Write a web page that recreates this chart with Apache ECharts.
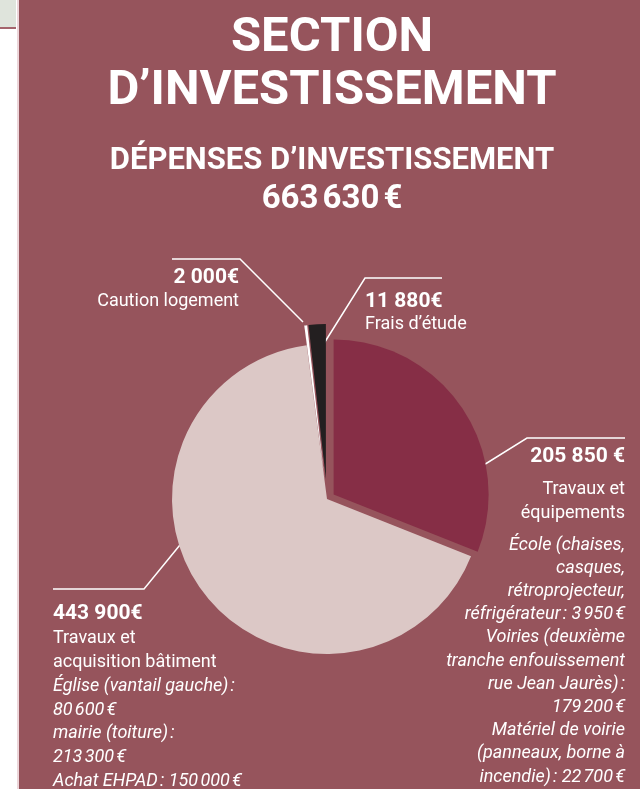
<!DOCTYPE html>
<html>
<head>
<meta charset="utf-8">
<script src="https://cdn.jsdelivr.net/npm/echarts@6/dist/echarts.min.js"></script>
<style>
html, body { margin: 0; padding: 0; background: #fff; }
#chart { width: 640px; height: 789px; }
</style>
</head>
<body>
<div id="chart"></div>
<script>
var categories = ['Travaux et équipements', 'Travaux et acquisition bâtiment', 'Caution logement', 'Frais d’étude'];
var amounts = [205850, 443900, 2000, 11880];
var amountLabels = ['205 850 €', '443 900€', '2 000€', '11 880€'];
var nameLines = [
	['Travaux et', 'équipements'],
	['Travaux et', 'acquisition bâtiment'],
	['Caution logement'],
	['Frais d’étude']
];
var details = [
	['École (chaises,', 'casques,', 'rétroprojecteur,', 'réfrigérateur\u202f: 3\u202f950\u202f€',
		'Voiries (deuxième', 'tranche enfouissement', 'rue Jean Jaurès)\u202f:', '179\u202f200\u202f€',
		'Matériel de voirie', '(panneaux, borne à', 'incendie)\u202f: 22\u202f700\u202f€'],
	['Église (vantail gauche)\u202f:', '80\u202f600\u202f€', 'mairie (toiture)\u202f:', '213\u202f300\u202f€',
		'Achat EHPAD\u202f: 150\u202f000\u202f€'],
	[],
	[]
];

var sliceColors = ['#862e46', '#dcc8c6', '#ffffff', '#231f20'];
var explode = [8, 0, 20, 20];
var pieCenter = [327, 499];
// label placement and leader lines (annotation layout)
var labelPos = [
	{ x : 625, y : 436, align : 'right', boldLH : 42, gap : 8, detailLH : 23.2, line : [[442, 491], [527, 438], [625, 438]] },
	{ x : 53, y : 600, align : 'left', boldLH : 27, gap : 0, detailLH : 23.75, line : [[193, 529], [144, 589], [53, 589]] },
	{ x : 239, y : 265, align : 'right', boldLH : 25, gap : 0, detailLH : 23.75, line : [[303, 322], [240, 259], [172, 259]] },
	{ x : 365, y : 290, align : 'left', boldLH : 23, gap : 0, detailLH : 23.75, line : [[323, 345], [365, 278], [442, 278]] }
];

var total = amounts.reduce(function(s, v) { return s + v; }, 0);

function fmtTotal(v) {
	return String(v).replace(/\B(?=(\d{3})+(?!\d))/g, '\u202f') + '\u202f€';
}

// slice pulled out along its bisector
function sliceCenter(i) {
	var before = 0;
	for (var j = 0; j < i; j++) before += amounts[j];
	var mid = (90 - 360 * (before + amounts[i] / 2) / total) * Math.PI / 180;
	return [pieCenter[0] + explode[i] * Math.cos(mid), pieCenter[1] - explode[i] * Math.sin(mid)];
}

function labelFor(i) {
	var L = labelPos[i];
	var a = L.align;
	var lines = ['{b|' + amountLabels[i] + '}'];
	nameLines[i].forEach(function(l) { lines.push('{r|' + l + '}'); });
	if (details[i].length && L.gap) lines.push('{g| }');
	details[i].forEach(function(l) { lines.push('{i|' + l + '}'); });
	return {
		show : true,
		padding : 0,
		formatter : lines.join('\n'),
		rich : {
			b : { fontFamily : 'Roboto', fontWeight : 'bold', fontSize : 21, lineHeight : L.boldLH, color : '#fff', align : a },
			r : { fontFamily : 'Roboto', fontSize : 18, lineHeight : 23.75, color : '#fff', align : a },
			g : { fontSize : 1, lineHeight : L.gap, align : a },
			i : { fontFamily : 'Roboto', fontStyle : 'italic', fontSize : 18, lineHeight : L.detailLH, color : '#fff', align : a }
		}
	};
}

function makeSeries(k) {
	return {
		type : 'pie',
		center : sliceCenter(k),
		radius : 155,
		startAngle : 90,
		clockwise : true,
		avoidLabelOverlap : false,
		animation : false,
		emphasis : { disabled : true },
		itemStyle : { borderWidth : 0 },
		label : { position : 'outside' },
		labelLine : { show : true, lineStyle : { color : '#fff', width : 1.5 } },
		labelLayout : function(p) {
			var L = labelPos[p.dataIndex];
			return { x : L.x, y : L.y, align : L.align, verticalAlign : 'top', labelLinePoints : L.line };
		},
		data : categories.map(function(c, i) {
			var on = i === k;
			return {
				name : c,
				value : amounts[i],
				itemStyle : { color : on ? sliceColors[i] : 'rgba(0,0,0,0)' },
				label : on ? labelFor(i) : { show : false },
				labelLine : { show : on }
			};
		})
	};
}

var myChart = echarts.init(document.getElementById('chart'));
var option = {
	backgroundColor : '#96545c',
	animation : false,
	title : [ {
		text : 'SECTION\nD’INVESTISSEMENT',
		left : 332, top : 12, textAlign : 'center', padding : 0,
		textStyle : { color : '#fff', fontFamily : 'Roboto', fontWeight : 'bold', fontSize : 49, lineHeight : 53 }
	}, {
		text : 'DÉPENSES D’INVESTISSEMENT',
		left : 332, top : 141, textAlign : 'center', padding : 0,
		textStyle : { color : '#fff', fontFamily : 'Roboto', fontWeight : 'bold', fontSize : 31, lineHeight : 40 }
	}, {
		text : fmtTotal(total),
		left : 332, top : 180, textAlign : 'center', padding : 0,
		textStyle : { color : '#fff', fontFamily : 'Roboto', fontWeight : 'bold', fontSize : 33, lineHeight : 40 }
	} ],
	graphic : [
		{ type : 'rect', shape : { x : 0, y : 0, width : 19, height : 789 }, style : { fill : '#ffffff' } },
		{ type : 'rect', shape : { x : 17, y : 0, width : 2, height : 789 }, style : { fill : '#ecd6da' } },
		{ type : 'rect', shape : { x : 0, y : 0, width : 16, height : 27 }, style : { fill : '#dfe4dc' } },
		{ type : 'rect', shape : { x : 0, y : 27, width : 16, height : 2 }, style : { fill : '#a4646c' } }
	],
	series : categories.map(function(c, k) { return makeSeries(k); })
};
myChart.setOption(option, true);
</script>
</body>
</html>
